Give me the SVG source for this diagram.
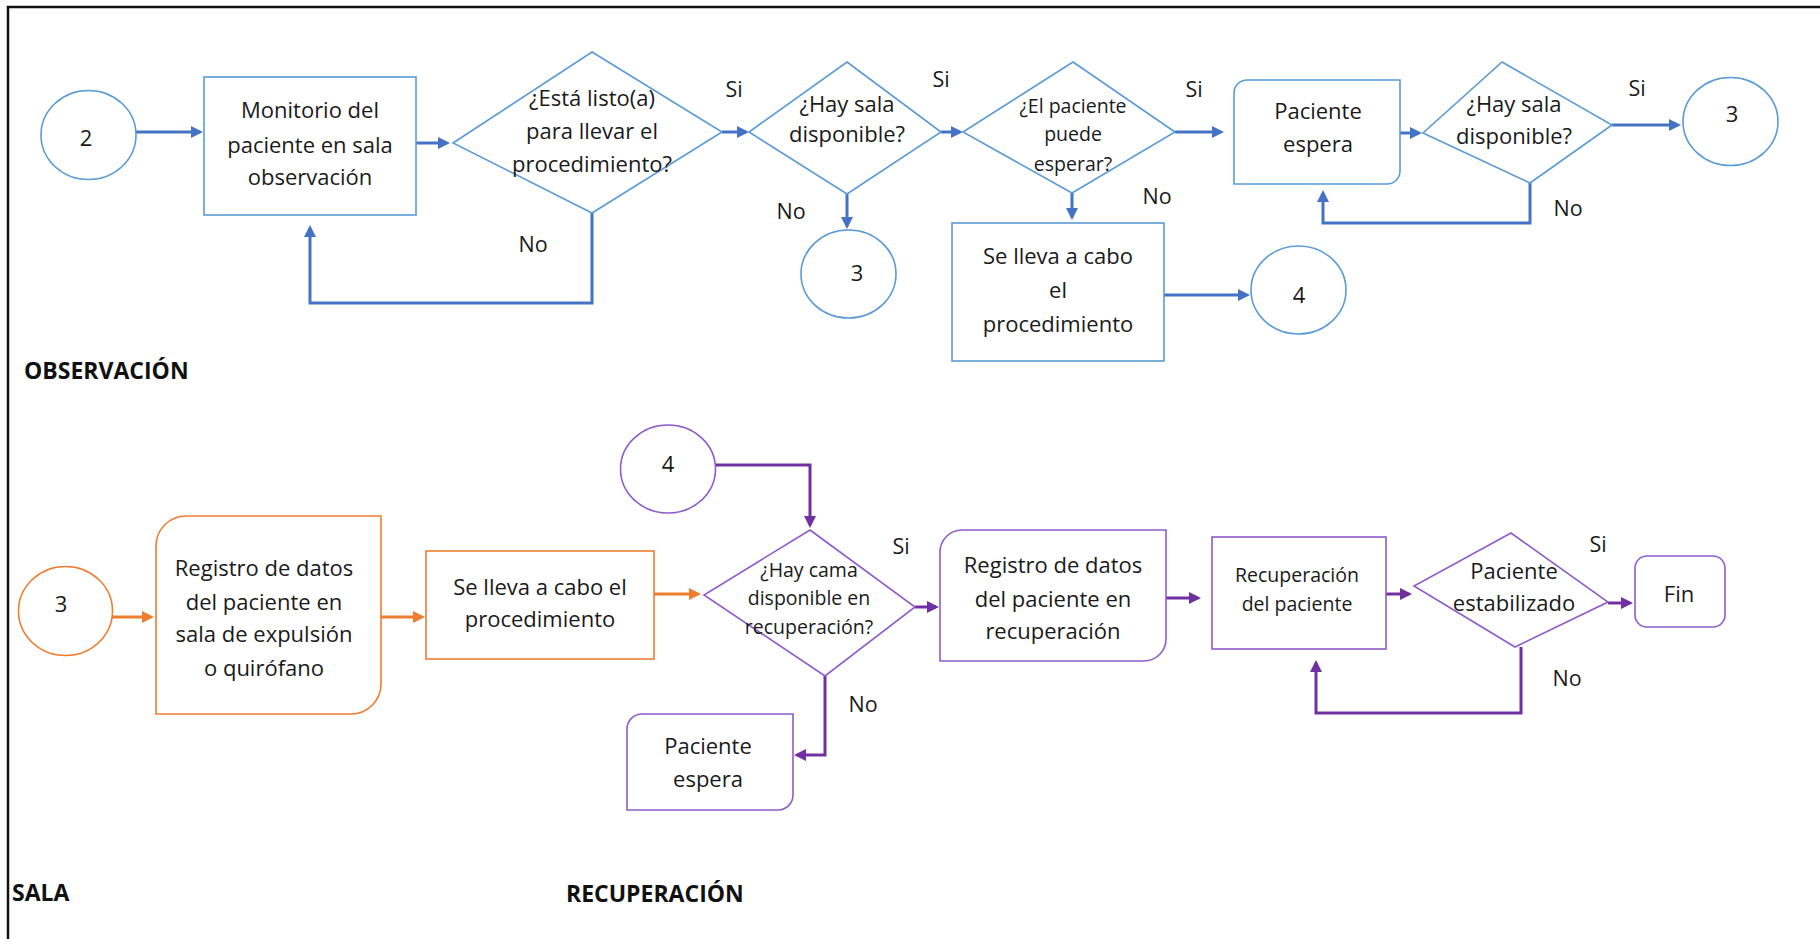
<svg xmlns="http://www.w3.org/2000/svg" width="1820" height="939" viewBox="0 0 1820 939">
<style>
.t{font-family:"Open Sans","Liberation Sans",sans-serif;font-size:22px;fill:#1a1a1a;text-anchor:middle;dominant-baseline:central}
.s{font-size:19.5px}
.h{font-family:"Open Sans","Liberation Sans",sans-serif;font-size:23px;font-weight:bold;fill:#111;dominant-baseline:central}
.lb{font-family:"Open Sans","Liberation Sans",sans-serif;font-size:21.5px;fill:#1a1a1a;text-anchor:middle;dominant-baseline:central}
.nb{fill:#fff;stroke:#5B9BD5;stroke-width:1.6}
.no{fill:#fff;stroke:#ED7D31;stroke-width:1.6}
.np{fill:#fff;stroke:#8F5CC9;stroke-width:1.6}
.cb{fill:none;stroke:#4472C4;stroke-width:3;marker-end:url(#ab)}
.co{fill:none;stroke:#ED7D31;stroke-width:3;marker-end:url(#ao)}
.cp{fill:none;stroke:#7030A0;stroke-width:3;marker-end:url(#ap)}
</style>
<defs>
<marker id="ab" viewBox="0 0 12 12" refX="9" refY="6" markerWidth="12" markerHeight="12" markerUnits="userSpaceOnUse" orient="auto"><path d="M0,0 L12,6 L0,12 z" fill="#4472C4"/></marker>
<marker id="ao" viewBox="0 0 12 12" refX="9" refY="6" markerWidth="12" markerHeight="12" markerUnits="userSpaceOnUse" orient="auto"><path d="M0,0 L12,6 L0,12 z" fill="#ED7D31"/></marker>
<marker id="ap" viewBox="0 0 12 12" refX="9" refY="6" markerWidth="12" markerHeight="12" markerUnits="userSpaceOnUse" orient="auto"><path d="M0,0 L12,6 L0,12 z" fill="#7030A0"/></marker>
</defs>
<rect width="1820" height="939" fill="#fff"/>
<path d="M8,939 V7 H1820" fill="none" stroke="#111" stroke-width="2.5"/>

<g id="connectors">
<path class="cb" d="M136,132 H200"/>
<path class="cb" d="M416,143 H447"/>
<path class="cb" d="M592,213 V303 H310 V228"/>
<path class="cb" d="M722,132 H746"/>
<path class="cb" d="M941,132 H960"/>
<path class="cb" d="M847,194 V226"/>
<path class="cb" d="M1175,132 H1221"/>
<path class="cb" d="M1072,193 V217"/>
<path class="cb" d="M1164,295 H1247"/>
<path class="cb" d="M1400,133 H1419"/>
<path class="cb" d="M1612,125 H1678"/>
<path class="cb" d="M1530,183 V223 H1323 V193"/>
<path class="co" d="M112,617 H151"/>
<path class="co" d="M381,617 H422"/>
<path class="co" d="M654,594 H698"/>
<path class="cp" d="M715,465 H810 V525"/>
<path class="cp" d="M915,607 H936"/>
<path class="cp" d="M825,676 V755 H797"/>
<path class="cp" d="M1166,598 H1198"/>
<path class="cp" d="M1386,594 H1409"/>
<path class="cp" d="M1608,603 H1630"/>
<path class="cp" d="M1521,647 V713 H1316 V663"/>
</g>

<g id="labels">
<text class="lb" x="734" y="88">Si</text>
<text class="lb" x="941" y="78">Si</text>
<text class="lb" x="1194" y="88">Si</text>
<text class="lb" x="1637" y="87">Si</text>
<text class="lb" x="901" y="545">Si</text>
<text class="lb" x="1598" y="543">Si</text>
<text class="lb" x="533" y="243">No</text>
<text class="lb" x="791" y="210">No</text>
<text class="lb" x="1157" y="195">No</text>
<text class="lb" x="1568" y="207">No</text>
<text class="lb" x="863" y="703">No</text>
<text class="lb" x="1567" y="677">No</text>
<text class="h" x="24" y="370">OBSERVACIÓN</text>
<text class="h" x="12" y="892">SALA</text>
<text class="h" x="566" y="893">RECUPERACIÓN</text>
</g>

<g id="c2"><ellipse class="nb" cx="88.5" cy="135" rx="47.5" ry="44.5"/><text class="t" x="86" y="137">2</text></g>
<g id="monitorio"><rect class="nb" x="204" y="77" width="212" height="138"/>
<text class="t" x="310" y="109">Monitorio del</text><text class="t" x="310" y="144">paciente en sala</text><text class="t" x="310" y="176">observación</text></g>
<g id="d1"><polygon class="nb" points="592,52 722,132 592,213 453,143"/>
<text class="t" x="592" y="97">¿Está listo(a)</text><text class="t" x="592" y="130">para llevar el</text><text class="t" x="592" y="163">procedimiento?</text></g>
<g id="d2"><polygon class="nb" points="847,62 941,132 847,194 749,132"/>
<text class="t" x="847" y="103">¿Hay sala</text><text class="t" x="847" y="133">disponible?</text></g>
<g id="c3a"><ellipse class="nb" cx="848.5" cy="274" rx="47.5" ry="44"/><text class="t" x="857" y="272">3</text></g>
<g id="d3"><polygon class="nb" points="1073,62 1175,132 1072,193 963,132"/>
<text class="t s" x="1073" y="105">¿El paciente</text><text class="t s" x="1073" y="133">puede</text><text class="t s" x="1073" y="163">esperar?</text></g>
<g id="proc1"><rect class="nb" x="952" y="223" width="212" height="138"/>
<text class="t" x="1058" y="255">Se lleva a cabo</text><text class="t" x="1058" y="289">el</text><text class="t" x="1058" y="323">procedimiento</text></g>
<g id="c4a"><ellipse class="nb" cx="1298.5" cy="290" rx="47.5" ry="44"/><text class="t" x="1299" y="294">4</text></g>
<g id="espera1"><path class="nb" d="M1247,80 H1400 V171 A13,13 0 0 1 1387,184 H1234 V93 A13,13 0 0 1 1247,80 Z"/>
<text class="t" x="1318" y="110">Paciente</text><text class="t" x="1318" y="143">espera</text></g>
<g id="d4"><polygon class="nb" points="1502,62 1612,125 1530,183 1423,133"/>
<text class="t" x="1514" y="103">¿Hay sala</text><text class="t" x="1514" y="135">disponible?</text></g>
<g id="c3b"><ellipse class="nb" cx="1730.5" cy="121.5" rx="47.5" ry="44"/><text class="t" x="1732" y="113">3</text></g>

<g id="c3c"><ellipse class="no" cx="65.5" cy="611" rx="47" ry="44.5"/><text class="t" x="61" y="603">3</text></g>
<g id="registro"><path class="no" d="M186,516 H381 V684 A30,30 0 0 1 351,714 H156 V546 A30,30 0 0 1 186,516 Z"/>
<text class="t" x="264" y="567">Registro de datos</text><text class="t" x="264" y="601">del paciente en</text><text class="t" x="264" y="633">sala de expulsión</text><text class="t" x="264" y="667">o quirófano</text></g>
<g id="proc2"><rect class="no" x="426" y="551" width="228" height="108"/>
<text class="t" x="540" y="586">Se lleva a cabo el</text><text class="t" x="540" y="618">procedimiento</text></g>

<g id="c4b"><ellipse class="np" cx="668" cy="469" rx="47.5" ry="44"/><text class="t" x="668" y="463">4</text></g>
<g id="d5"><polygon class="np" points="810,530 915,607 825,676 704,595"/>
<text class="t s" x="809" y="569">¿Hay cama</text><text class="t s" x="809" y="597">disponible en</text><text class="t s" x="809" y="626">recuperación?</text></g>
<g id="espera2"><path class="np" d="M642,714 H793 V795 A15,15 0 0 1 778,810 H627 V729 A15,15 0 0 1 642,714 Z"/>
<text class="t" x="708" y="745">Paciente</text><text class="t" x="708" y="778">espera</text></g>
<g id="registro2"><path class="np" d="M962,530 H1166 V639 A22,22 0 0 1 1144,661 H940 V552 A22,22 0 0 1 962,530 Z"/>
<text class="t" x="1053" y="564">Registro de datos</text><text class="t" x="1053" y="598">del paciente en</text><text class="t" x="1053" y="630">recuperación</text></g>
<g id="recuperacion"><rect class="np" x="1212" y="537" width="174" height="112"/>
<text class="t s" x="1297" y="574">Recuperación</text><text class="t s" x="1297" y="603">del paciente</text></g>
<g id="d6"><polygon class="np" points="1511,533 1608,602 1515,647 1414,586"/>
<text class="t" x="1514" y="570">Paciente</text><text class="t" x="1514" y="602">estabilizado</text></g>
<g id="fin"><rect class="np" x="1635" y="556" width="90" height="71" rx="12"/><text class="t" x="1679" y="593">Fin</text></g>
</svg>
